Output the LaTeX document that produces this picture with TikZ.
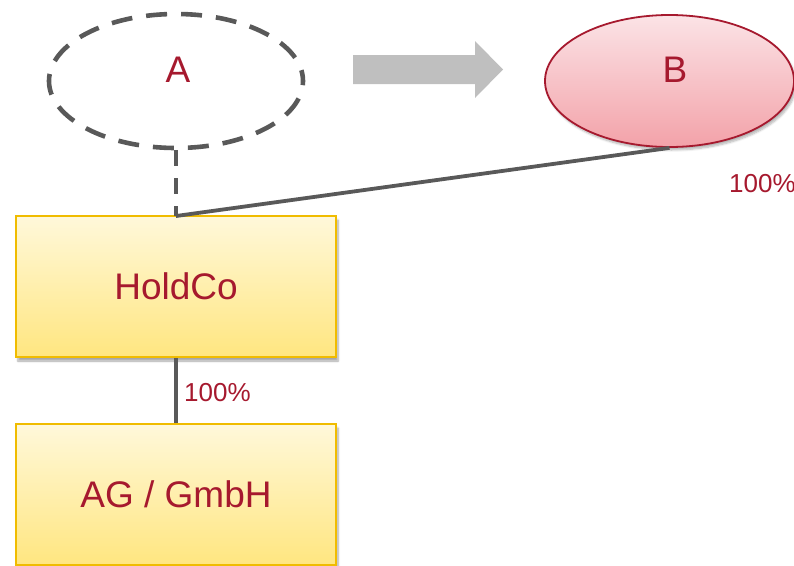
\documentclass[tikz,border=0pt]{standalone}
\usepackage{fontspec}
\setmainfont{Liberation Sans}
\usetikzlibrary{shapes.geometric,shadows.blur}

\definecolor{txtred}{HTML}{A6192E}
\definecolor{linegray}{HTML}{595959}
\definecolor{arrowgray}{HTML}{BFBFBF}
\definecolor{boxtop}{HTML}{FFF8DA}
\definecolor{boxbot}{HTML}{FFE680}
\definecolor{boxedge}{HTML}{F0BC00}
\definecolor{pinktop}{HTML}{FBE3E6}
\definecolor{pinkbot}{HTML}{F3A2A9}

\tikzset{
  entity/.style={draw=boxedge, line width=2pt, rectangle,
    top color=boxtop, bottom color=boxbot, inner sep=0pt,
    minimum width=320pt, minimum height=141pt,
    text=txtred, font=\fontsize{37}{41}\selectfont,
    blur shadow={shadow xshift=2pt, shadow yshift=-4pt, shadow blur steps=6, shadow opacity=35}},
  holder/.style={ellipse, draw=linegray, line width=4.6pt,
    dash pattern=on 21pt off 14pt, dash phase=10pt,
    minimum width=254pt, minimum height=134pt, inner sep=0pt},
  partner/.style={ellipse, draw=txtred, line width=1.8pt,
    top color=pinktop, bottom color=pinkbot,
    minimum width=249pt, minimum height=132pt, inner sep=0pt,
    blur shadow={shadow xshift=2pt, shadow yshift=-3pt, shadow blur steps=6, shadow opacity=30}},
  bigtxt/.style={text=txtred, font=\fontsize{37}{41}\selectfont, inner sep=0pt},
  pct/.style={text=txtred, font=\fontsize{26}{30}\selectfont, inner sep=0pt},
  link/.style={draw=linegray, line width=3.8pt},
  dashlink/.style={link, dash pattern=on 16pt off 12pt}
}

\begin{document}
\begin{tikzpicture}[x=1pt, y=-1pt]
  \useasboundingbox (0,0) rectangle (794,565);

  % shareholders
  \node[holder] (A) at (176,81) {};
  \node[bigtxt] (Atxt) at (178,70) {A};
  \node[partner] (B) at (669.5,81) {};
  \node[bigtxt] (Btxt) at (675,70) {B};

  % transfer arrow between shareholders
  \fill[arrowgray] (353,55) -- (475,55) -- (475,41) -- (503,69.5)
    -- (475,98) -- (475,84) -- (353,84) -- cycle;

  % companies
  \node[entity] (H) at (176,286.5) {HoldCo};
  \node[entity] (G) at (176,494.5) {AG / GmbH};

  % ownership links
  \coordinate (Htop) at (176,216);
  \draw[dashlink] (A.south) -- (Htop);
  \draw[link] (B.south) -- (Htop);
  \draw[link] (H.south) -- (G.north);

  \node[pct, anchor=west] (p1) at (184,393) {100\%};
  \node[pct, anchor=west] (p2) at (729,184) {100\%};
\end{tikzpicture}
\end{document}
